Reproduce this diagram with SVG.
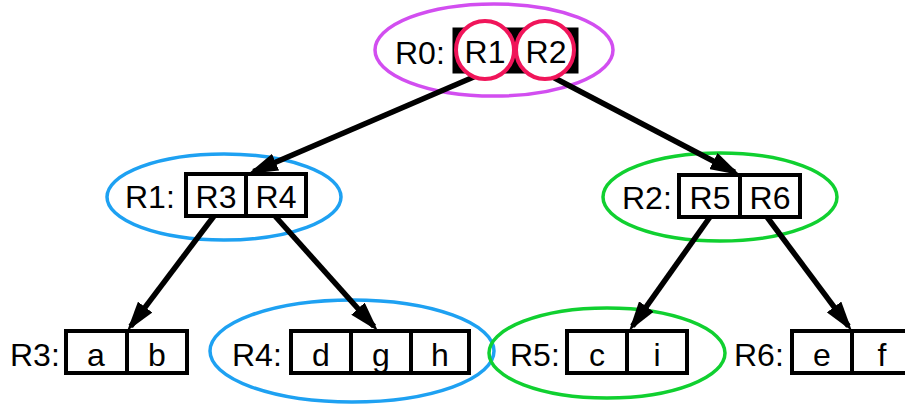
<svg xmlns="http://www.w3.org/2000/svg" width="905" height="404" viewBox="0 0 905 404">
<style>
text{font-family:"Liberation Sans",Arial,sans-serif;font-size:32px;fill:#000}
.c{text-anchor:middle}
.box{fill:#fff;stroke:#000;stroke-width:4}
.div{stroke:#000;stroke-width:4}
.blue{fill:none;stroke:#1ea1f2;stroke-width:3.5}
.green{fill:none;stroke:#10d030;stroke-width:3.5}
.edge{stroke:#000;stroke-width:5.5;fill:none}
</style>
<defs>
<marker id="ah" markerUnits="userSpaceOnUse" markerWidth="30" markerHeight="18" refX="24" refY="9" orient="auto">
<path d="M0,0 L30,9 L0,18 z" fill="#000"/>
</marker>
</defs>
<g id="highlights">
<ellipse cx="494" cy="50" rx="119" ry="46" fill="none" stroke="#d24ef0" stroke-width="3.5"/>
<ellipse class="blue" cx="224" cy="197" rx="117" ry="43"/>
<ellipse class="green" cx="720" cy="197" rx="117" ry="44"/>
<ellipse class="blue" cx="352" cy="351" rx="142" ry="51"/>
<ellipse class="green" cx="607" cy="353" rx="118" ry="45"/>
</g>
<g id="connectors">
<line class="edge" x1="483" y1="73" x2="253.5" y2="171.6" marker-end="url(#ah)"/>
<line class="edge" x1="545" y1="73" x2="734.7" y2="172.2" marker-end="url(#ah)"/>
<line class="edge" x1="214" y1="216" x2="130.7" y2="326.3" marker-end="url(#ah)"/>
<line class="edge" x1="275" y1="216" x2="374" y2="326.5" marker-end="url(#ah)"/>
<line class="edge" x1="710" y1="217" x2="632.5" y2="326.1" marker-end="url(#ah)"/>
<line class="edge" x1="767" y1="217" x2="848.4" y2="326.2" marker-end="url(#ah)"/>
</g>
<g id="R0">
<text x="395" y="64">R0:</text>
<rect x="454" y="29" width="123" height="43" fill="#000" stroke="#000" stroke-width="3"/>
<circle cx="485" cy="50" r="29" fill="#fff" stroke="#f0155a" stroke-width="4"/>
<circle cx="545" cy="50" r="29" fill="#fff" stroke="#f0155a" stroke-width="4"/>
<text class="c" x="485" y="63">R1</text>
<text class="c" x="546" y="63">R2</text>
</g>
<g id="R1">
<text x="125" y="208">R1:</text>
<rect class="box" x="186" y="174" width="120" height="42"/>
<line class="div" x1="246" y1="174" x2="246" y2="216"/>
<text class="c" x="216" y="208">R3</text>
<text class="c" x="276" y="208">R4</text>
</g>
<g id="R2">
<text x="622" y="209">R2:</text>
<rect class="box" x="679" y="175" width="121" height="42"/>
<line class="div" x1="740" y1="175" x2="740" y2="217"/>
<text class="c" x="710" y="209">R5</text>
<text class="c" x="770" y="209">R6</text>
</g>
<g id="R3">
<text x="10" y="366">R3:</text>
<rect class="box" x="66" y="331" width="121" height="42"/>
<line class="div" x1="127" y1="331" x2="127" y2="373"/>
<text class="c" x="96" y="366">a</text>
<text class="c" x="157" y="366">b</text>
</g>
<g id="R4">
<text x="232" y="366">R4:</text>
<rect class="box" x="291" y="331" width="178" height="42"/>
<line class="div" x1="351" y1="331" x2="351" y2="373"/>
<line class="div" x1="411" y1="331" x2="411" y2="373"/>
<text class="c" x="321" y="366">d</text>
<text class="c" x="381" y="366">g</text>
<text class="c" x="440" y="366">h</text>
</g>
<g id="R5">
<text x="510" y="366">R5:</text>
<rect class="box" x="567" y="331" width="120" height="42"/>
<line class="div" x1="627" y1="331" x2="627" y2="373"/>
<text class="c" x="597" y="366">c</text>
<text class="c" x="657" y="366">i</text>
</g>
<g id="R6">
<text x="734" y="366">R6:</text>
<rect class="box" x="792" y="331" width="121" height="42"/>
<line class="div" x1="852" y1="331" x2="852" y2="373"/>
<text class="c" x="822" y="366">e</text>
<text class="c" x="882" y="366">f</text>
</g>
</svg>
